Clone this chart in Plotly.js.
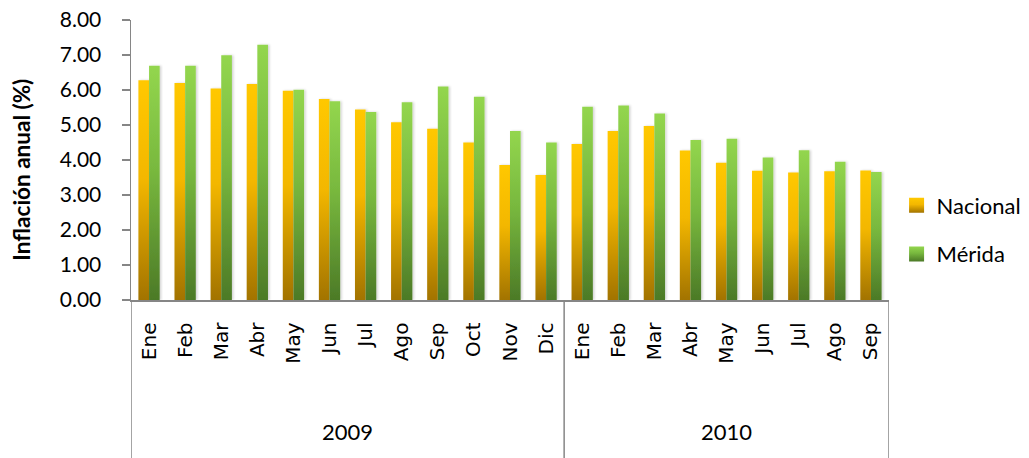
<!DOCTYPE html>
<html>
<head>
<meta charset="utf-8">
<script src="https://cdn.plot.ly/plotly-3.0.1.min.js"></script>
<style>
html,body{margin:0;padding:0;background:#fff;}
#chart{width:1029px;height:458px;}
</style>
</head>
<body>
<div id="chart"></div>
<script>
// ---- data ----
var years = ["2009","2009","2009","2009","2009","2009","2009","2009","2009","2009","2009","2009",
             "2010","2010","2010","2010","2010","2010","2010","2010","2010"];
var months = ["Ene","Feb","Mar","Abr","May","Jun","Jul","Ago","Sep","Oct","Nov","Dic",
              "Ene","Feb","Mar","Abr","May","Jun","Jul","Ago","Sep"];
var nacional = [6.28,6.20,6.04,6.17,5.98,5.74,5.44,5.08,4.89,4.50,3.86,3.57,
                4.46,4.83,4.97,4.27,3.92,3.69,3.64,3.68,3.70];
var merida   = [6.69,6.69,6.99,7.29,6.01,5.68,5.37,5.65,6.10,5.81,4.83,4.50,
                5.52,5.56,5.33,4.57,4.61,4.07,4.28,3.95,3.66];
var yearLabels = ["2009","2010"];
var yTicks = [0,1,2,3,4,5,6,7,8];

var xKeys = months.map(function(m,i){ return years[i] + "-" + m; });

var lineColor = "#868686";
var fontMain = "Lato, 'Open Sans', sans-serif";

var traces = [
  {type:"bar", name:"Nacional", x:xKeys, y:nacional, marker:{color:"#F2B600", line:{width:0}}, legendgroup:"a"},
  {type:"bar", name:"Mérida", x:xKeys, y:merida, marker:{color:"#72B53C", line:{width:0}}, legendgroup:"b"}
];

// group dividers & year labels derived from data
var groups = [];
yearLabels.forEach(function(yr){
  var idx = years.map(function(v,i){return v===yr?i:-1;}).filter(function(i){return i>=0;});
  groups.push({yr:yr, first:idx[0], last:idx[idx.length-1]});
});
var shapes = [];
var annotations = [];
var yBottom = -0.57;
groups.forEach(function(g,gi){
  shapes.push({type:"line", xref:"x", yref:"paper", x0:g.first-0.5, x1:g.first-0.5, y0:0, y1:yBottom,
               line:{color:lineColor, width:1.5}});
  if(gi===groups.length-1){
    shapes.push({type:"line", xref:"x", yref:"paper", x0:g.last+0.5, x1:g.last+0.5, y0:0, y1:yBottom,
                 line:{color:lineColor, width:1.5}});
  }
  annotations.push({xref:"x", yref:"paper", x:(g.first+g.last)/2, y:-0.468, text:g.yr, showarrow:false,
                    font:{family:fontMain, size:22, color:"#000"}, xanchor:"center", yanchor:"middle"});
});
annotations.push({xref:"paper", yref:"paper", x:-0.144, y:0.465, text:"<b>Inflación anual (%)</b>", showarrow:false,
                  textangle:-90, font:{family:fontMain, size:22.5, color:"#000"}, xanchor:"center", yanchor:"middle"});

var layout = {
  width:1029, height:458,
  margin:{l:131, r:140, t:20, b:158, autoexpand:false},
  paper_bgcolor:"#fff", plot_bgcolor:"#fff",
  barmode:"group", bargap:0.41, bargroupgap:0,
  showlegend:true,
  legend:{x:1.01, xanchor:"left", y:0.25, yanchor:"middle", font:{family:fontMain, size:22, color:"#000"},
          traceorder:"grouped", tracegroupgap:17, itemwidth:30, bgcolor:"rgba(0,0,0,0)"},
  xaxis:{type:"category", tickmode:"array", tickvals:xKeys, ticktext:months, tickangle:-90,
         tickfont:{family:"DejaVu Sans, sans-serif", size:20, color:"#000"},
         showline:true, linecolor:lineColor, linewidth:1.5, ticks:"", showgrid:false, zeroline:false,
         ticklabelstandoff:13, range:[-0.5, xKeys.length-0.5], fixedrange:true, automargin:false},
  yaxis:{range:[0,8], tickmode:"array", tickvals:yTicks, ticktext:yTicks.map(function(v){return v.toFixed(2);}),
         tickfont:{family:fontMain, size:21, color:"#000"},
         showline:true, linecolor:lineColor, linewidth:1.5, ticks:"outside", ticklen:8, tickcolor:lineColor, tickwidth:1.5,
         showgrid:false, zeroline:false, ticklabelstandoff:16, fixedrange:true, automargin:false},
  shapes:shapes,
  annotations:annotations
};

var grads = [
  {id:"gNac", stops:[["0%","#FFC800"],["45%","#F3B700"],["100%","#A27300"]]},
  {id:"gMer", stops:[["0%","#93D64E"],["45%","#78B83E"],["100%","#4C7A27"]]}
];

Plotly.newPlot("chart", traces, layout, {staticPlot:true, displayModeBar:false}).then(function(gd){
  var NS = "http://www.w3.org/2000/svg";
  var svg = gd.querySelector(".main-svg");
  var defs = svg.querySelector("defs") || svg.insertBefore(document.createElementNS(NS,"defs"), svg.firstChild);
  grads.forEach(function(g){
    var lg = document.createElementNS(NS,"linearGradient");
    lg.setAttribute("id", g.id); lg.setAttribute("x1","0"); lg.setAttribute("y1","0");
    lg.setAttribute("x2","0"); lg.setAttribute("y2","1");
    g.stops.forEach(function(s){
      var st = document.createElementNS(NS,"stop");
      st.setAttribute("offset", s[0]); st.setAttribute("stop-color", s[1]);
      lg.appendChild(st);
    });
    defs.appendChild(lg);
  });
  var flt = document.createElementNS(NS,"filter");
  flt.setAttribute("id","shd"); flt.setAttribute("x","-30%"); flt.setAttribute("y","-5%");
  flt.setAttribute("width","160%"); flt.setAttribute("height","110%");
  flt.innerHTML = '<feDropShadow dx="1.5" dy="0" stdDeviation="1.2" flood-color="#000" flood-opacity="0.18"/>';
  defs.appendChild(flt);
  var barTraces = gd.querySelectorAll(".barlayer .trace");
  barTraces.forEach(function(t,i){
    t.querySelectorAll("path").forEach(function(p){
      p.style.fill = "url(#" + grads[i].id + ")";
      p.setAttribute("filter","url(#shd)");
    });
  });
  var legTraces = gd.querySelectorAll(".legend .traces");
  legTraces.forEach(function(t,i){
    t.querySelectorAll(".legendpoints path").forEach(function(p){
      p.style.fill = "url(#" + grads[i].id + ")";
      p.setAttribute("d","M7.5,7.5H-7.5V-7.5H7.5Z");
    });
  });
});
</script>
</body>
</html>
